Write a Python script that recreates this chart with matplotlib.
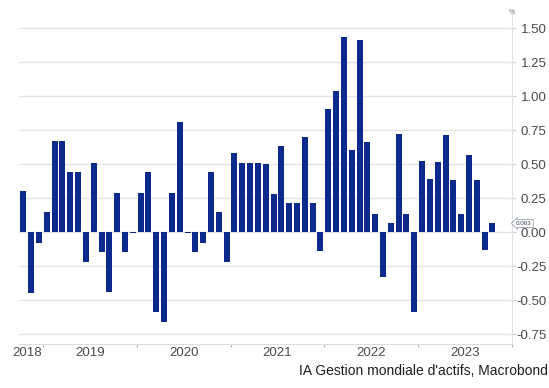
import numpy as np
import matplotlib.pyplot as plt
from matplotlib.transforms import blended_transform_factory

# monthly values, Oct 2018 -> Oct 2023 (%)
start_year, start_month = 2018, 10
values = [0.30, -0.45, -0.08, 0.15, 0.67, 0.67, 0.44, 0.44, -0.22, 0.51,
          -0.15, -0.44, 0.29, -0.15, -0.01, 0.29, 0.44, -0.59, -0.66, 0.29,
          0.81, -0.01, -0.15, -0.08, 0.44, 0.145, -0.22, 0.58, 0.505, 0.505,
          0.505, 0.50, 0.28, 0.63, 0.21, 0.21, 0.70, 0.21, -0.14, 0.905,
          1.035, 1.435, 0.60, 1.41, 0.66, 0.13, -0.33, 0.064, 0.72, 0.13,
          -0.59, 0.52, 0.39, 0.517, 0.71, 0.38, 0.13, 0.57, 0.38, -0.13,
          0.063]
years = [2018, 2019, 2020, 2021, 2022, 2023]
yticks = [-0.75, -0.50, -0.25, 0.00, 0.25, 0.50, 0.75, 1.00, 1.25, 1.50]
last_label = "0.063"
source = "IA Gestion mondiale d'actifs, Macrobond"

navy = '#0b2a8c'
grid_c = '#e4e4e4'
txt_c = '#4a4a4a'

plt.rcParams['font.family'] = ['Liberation Sans', 'DejaVu Sans']
plt.rcParams['axes.unicode_minus'] = False

fig = plt.figure(figsize=(5.49, 3.88), dpi=100)
ax = fig.add_axes([0.0355, 0.1134, 0.8971, 0.8606])

# x = months since Jan 2018, bar centred in its month
first = (start_year - 2018) * 12 + (start_month - 1)
x = np.arange(len(values)) + first + 0.5
ax.bar(x, values, width=0.77, color=navy, zorder=3)

ax.set_xlim(first, 72)
ax.set_ylim(-0.8235, 1.632)

# year boundaries as ticks, labels centred in each year
ax.set_xticks([12, 24, 36, 48, 60, 72])
ax.set_xticklabels([])
ax.tick_params(axis='x', length=2.5, color='#b0b0b0', width=0.8)
for yr in years:
    xc = (yr - 2018) * 12 + 6
    if xc < first:
        xc = 10.0
    ax.text(xc, -0.845, str(yr), ha='center', va='top', fontsize=9.5, color=txt_c)

ax.yaxis.tick_right()
ax.set_yticks(yticks)
ax.set_yticklabels([f'{v:.2f}' for v in yticks], fontsize=9.5, color=txt_c, ha='right')
ax.tick_params(axis='y', length=3, color='#d0d0d0', pad=22)
ax.grid(axis='y', color=grid_c, linewidth=1, zorder=0)

for s in ['top', 'left']:
    ax.spines[s].set_visible(False)
ax.spines['right'].set_color('#e0e0e0')
ax.spines['bottom'].set_color('#dcdcdc')

ax.text(1.0, 1.612, '%', transform=blended_transform_factory(ax.transAxes, ax.transData),
        ha='center', va='center', fontsize=5, color='#777777')

# last value callout
ax.text(1.024, values[-1], last_label,
        transform=blended_transform_factory(ax.transAxes, ax.transData),
        ha='center', va='center', fontsize=4.5, color='#34405a', zorder=5,
        bbox=dict(boxstyle='larrow,pad=0.25', fc='white', ec='#9aa0aa', lw=0.6))

fig.text(0.998, 0.025, source, ha='right', va='bottom', fontsize=10, color='#1e1e1e')

plt.savefig('out.png', dpi=100)
